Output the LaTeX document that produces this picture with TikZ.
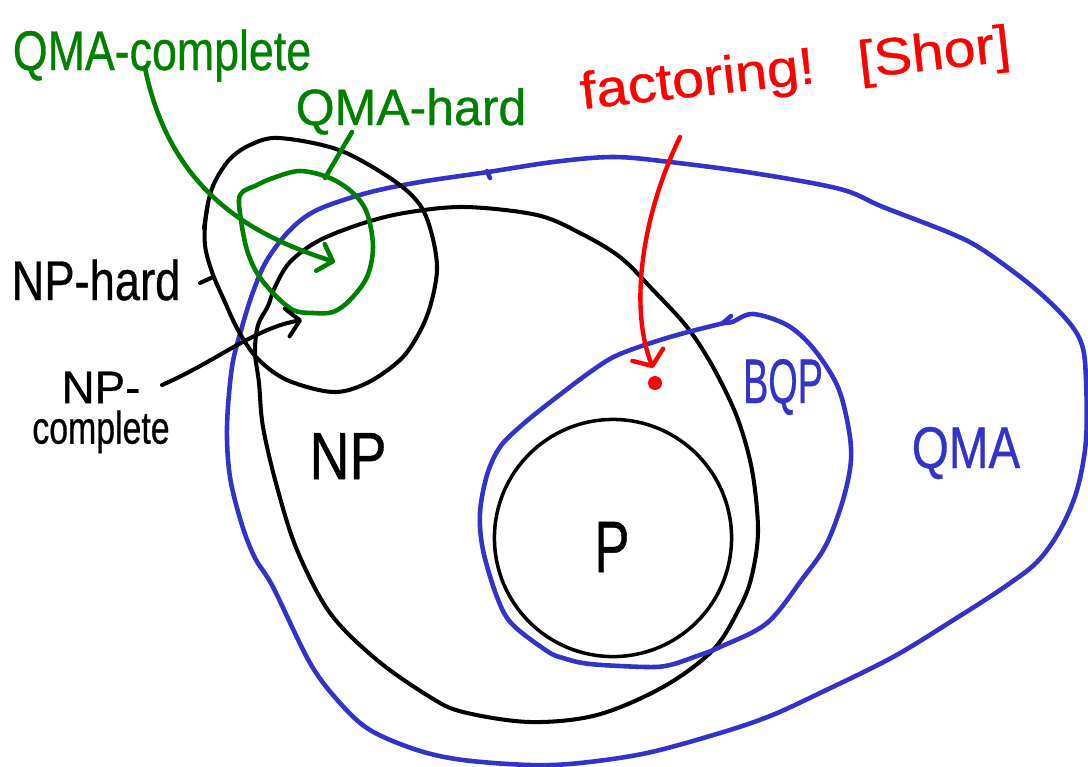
\documentclass[tikz,border=0pt]{standalone}
\usepackage{graphicx}
\usepackage{fontspec}
\setmainfont{Liberation Sans}[FakeBold=0.7]
\usetikzlibrary{arrows.meta}
\definecolor{qblue}{RGB}{51,51,204}
\definecolor{qgreen}{RGB}{0,128,0}
\definecolor{qred}{RGB}{255,0,0}
% horizontally squeezed text, to get the narrow hand-lettered look
\newcommand\hsq[2]{\scalebox{#1}[1]{#2}}

\begin{document}
\begin{tikzpicture}[x=0.01cm, y=-0.01cm,
  blackline/.style={line width=1.15pt, draw=black, line join=round, line cap=round},
  blueline/.style={line width=1.3pt, draw=qblue, line join=round, line cap=round},
  greenline/.style={line width=1.3pt, draw=qgreen, line join=round, line cap=round},
  redline/.style={line width=1.25pt, draw=qred, line join=round, line cap=round},
  barb/.style={-{Straight Barb[length=1.3mm,width=2.8mm,line cap=round,line join=round]}},
  redbarb/.style={-{Straight Barb[length=1.2mm,width=3.3mm,line cap=round,line join=round]}},
  lbl/.style={inner sep=0pt, anchor=base},
  blob/.style={smooth cycle, tension=0.55},
]
\useasboundingbox (0,0) rectangle (1088,766);

% ---- QMA ----
\draw[blueline] plot[blob] coordinates {
  (488,172) (553,162) (613,157) (670,162) (753,173) (840,189) (883,207)
  (950,233) (983,250) (1033,287) (1067,320) (1082,345) (1086,380) (1086,440)
  (1077,490) (1060,530) (1037,562) (1003,588) (955,619) (893,657) (820,693)
  (770,716) (720,733) (647,753) (580,763) (530,765) (463,760) (417,750)
  (370,730) (340,703) (310,663) (273,587) (255,558) (242,525) (230,477)
  (227,427) (232,367) (242,327) (253,292) (267,260) (290,230) (317,210)
  (367,193) (420,182)};
\draw[blueline] (487,171) -- (490,178);

% ---- NP ----
\draw[blackline] plot[blob] coordinates {
  (466,207) (537,215) (580,233) (620,257) (653,290) (687,327) (713,367)
  (737,417) (752,470) (758,530) (752,575) (740,607) (713,650) (663,687)
  (597,715) (530,722) (463,712) (430,697) (377,660) (330,613) (297,550)
  (277,487) (263,427) (259,383) (255,352) (258,325) (268,306) (275,287)
  (290,262) (320,240) (367,222) (410,212)};

% ---- NP-hard ----
\draw[blackline] plot[blob] coordinates {
  (206,215) (213,186) (229,160) (250,145) (279,138) (339,150) (393,180)
  (420,205) (432,235) (437,270) (430,307) (418,335) (400,360) (367,383)
  (333,392) (287,380) (257,358) (238,330) (224,300) (212,272) (205,245)};
\draw[blackline] (208,203) -- (204,228);

% ---- QMA-hard ----
\draw[greenline] plot[blob] coordinates {
  (240,195) (257,185) (273,178) (300,171) (330,178) (353,193) (367,213)
  (373,247) (367,277) (350,300) (333,312) (313,313) (293,310) (273,293)
  (257,273) (247,250) (241,220)};

% ---- BQP ----
\draw[blueline] plot[blob] coordinates {
  (732,322) (753,314) (787,325) (813,348) (837,385) (848,425) (851,460)
  (843,500) (826,545) (803,578) (767,623) (720,647) (697,656) (670,665)
  (647,667) (590,664) (563,658) (547,651) (512,624) (497,597) (483,550)
  (480,513) (487,475) (500,447) (522,425) (553,400) (593,370) (620,354)
  (670,337) (720,324)};
\draw[blueline] (731,316) -- (723,323);

% ---- P ----
\node[draw, circle, line width=1pt, minimum size=2.37cm, inner sep=0pt] (pset) at (613,538) {};

% ---- labels ----
\node[lbl, text=qgreen, font=\fontsize{15.9}{18}\selectfont] (qmac) at (162,70) {\hsq{0.80}{QMA-complete}};
\node[lbl, text=qgreen, font=\fontsize{14.5}{17}\selectfont] (qmah) at (411,125) {\hsq{0.98}{QMA-hard}};
\node[lbl, text=qred, font=\fontsize{14.8}{17}\selectfont, rotate=6.4] (fact) at (797,85)
  {\hsq{1.1}{factoring!\hspace{0.4em} [Shor]}};
\node[lbl, font=\fontsize{15.9}{18}\selectfont] (nph) at (96,300) {\hsq{0.81}{NP-hard}};
\node[inner sep=0pt, anchor=north, align=center, font=\fontsize{13}{11.5}\selectfont] (npc) at (101,371)
  {NP-\\\hsq{0.74}{complete}};
\node[lbl, font=\fontsize{19}{21}\selectfont] (np) at (348,479) {\hsq{0.83}{NP}};
\node[lbl, font=\fontsize{20.7}{23}\selectfont] (plbl) at (612,572) {\hsq{0.72}{P}};
\node[lbl, text=qblue, font=\fontsize{17.9}{20}\selectfont] (bqp) at (783,403) {\hsq{0.6}{BQP}};
\node[lbl, text=qblue, font=\fontsize{16.7}{19}\selectfont] (qma) at (966,468) {\hsq{0.81}{QMA}};

% ---- factoring point ----
\node[circle, fill=qred, minimum size=0.14cm, inner sep=0pt] (fdot) at (655,383) {};

% ---- connector ends ----
\coordinate (qmacTail) at (145,68);
\coordinate (qmacTip) at (335,262);
\coordinate (qmahTail) at (352,132);
\coordinate (qmahEnd) at (325,178);
\coordinate (nphTail) at (200,283);
\coordinate (nphEnd) at (213,277);
\coordinate (npcTail) at (162,385);
\coordinate (npcTip) at (302,320);
\coordinate (factTail) at (680,137);
\coordinate (factTip) at (653,368);

% ---- connectors ----
\draw[greenline, barb] (qmacTail) .. controls (170,190) and (250,235) .. (qmacTip);
\draw[greenline] (qmahTail) -- (qmahEnd);
\draw[blackline] (nphTail) -- (nphEnd);
\draw[blackline, barb] (npcTail) .. controls (215,362) and (255,328) .. (npcTip);
\draw[redline, redbarb] (factTail) .. controls (640,220) and (630,310) .. (factTip);
\end{tikzpicture}
\end{document}
